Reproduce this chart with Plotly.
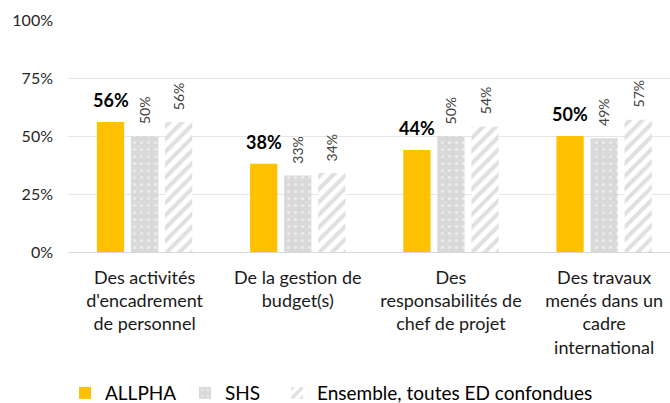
import plotly.graph_objects as go

categories = ["Des activités<br>d'encadrement<br>de personnel",
              "De la gestion de<br>budget(s)",
              "Des<br>responsabilités de<br>chef de projet",
              "Des travaux<br>menés dans un<br>cadre<br>international"]
allpha = [56, 38, 44, 50]
shs = [50, 33, 50, 49]
ensemble = [56, 34, 54, 57]
yticks = [0, 25, 50, 75, 100]
ytick_labels = ["0%", "25%", "50%", "75%", "100%"]

FONT = "Lato"
W, H = 670, 403
ML, MR, MT, MB = 68, 0, 20, 151
XRANGE = [-0.5, 3.43]
BARGAP, BARGROUPGAP = 0.333, 0.2

fig = go.Figure()
fig.add_trace(go.Bar(
    name="ALLPHA", x=categories, y=allpha, legend="legend",
    marker=dict(color="#FFC000", line=dict(width=0)),
))
fig.add_trace(go.Bar(
    name="SHS", x=categories, y=shs, legend="legend2",
    marker=dict(color="#D9D9D9", line=dict(width=0),
                pattern=dict(shape=".", bgcolor="#D9D9D9", fgcolor="#FFFFFF",
                             size=7, solidity=0.15, fillmode="overlay")),
))
fig.add_trace(go.Bar(
    name="Ensemble, toutes ED confondues", x=categories, y=ensemble, legend="legend3",
    marker=dict(color="#FFFFFF", line=dict(width=0),
                pattern=dict(shape="/", bgcolor="#FFFFFF", fgcolor="#C0C0C0",
                             size=9, solidity=0.45, fillmode="overlay")),
))

# value labels, placed above each bar (offset = bar slot within the group)
cat_px = (W - ML - MR) / (XRANGE[1] - XRANGE[0])
slot = cat_px * (1 - BARGAP) / 3
for i, cat in enumerate(categories):
    fig.add_annotation(x=cat, y=allpha[i], xref="x", yref="y", text=f"<b>{allpha[i]}%</b>",
                       showarrow=False, xshift=-slot, yshift=9, yanchor="bottom",
                       font=dict(size=18, color="#000000", family=FONT))
    fig.add_annotation(x=cat, y=shs[i], xref="x", yref="y", text=f"{shs[i]}%",
                       showarrow=False, xshift=0, yshift=10, yanchor="bottom",
                       textangle=-90, font=dict(size=14, color="#404040", family=FONT))
    fig.add_annotation(x=cat, y=ensemble[i], xref="x", yref="y", text=f"{ensemble[i]}%",
                       showarrow=False, xshift=slot, yshift=10, yanchor="bottom",
                       textangle=-90, font=dict(size=14, color="#404040", family=FONT))

pw = W - ML - MR
def lx(left_px):
    return (left_px - ML) / pw

leg_common = dict(orientation="h", xanchor="left", y=-0.608, yanchor="middle",
                  font=dict(size=19, color="#000000", family=FONT),
                  bgcolor="rgba(0,0,0,0)", borderwidth=0)
fig.update_layout(
    width=W, height=H,
    margin=dict(l=ML, r=MR, t=MT, b=MB, autoexpand=False),
    paper_bgcolor="white", plot_bgcolor="white",
    barmode="group", bargap=BARGAP, bargroupgap=BARGROUPGAP,
    font=dict(family=FONT, color="#262626"),
    showlegend=True,
    legend=dict(x=lx(65), **leg_common),
    legend2=dict(x=lx(185), **leg_common),
    legend3=dict(x=lx(277), **leg_common),
)
fig.update_xaxes(
    type="category", range=XRANGE, automargin=False,
    showline=True, linecolor="#D9D9D9", linewidth=1,
    ticks="", ticklabelstandoff=9,
    tickfont=dict(size=18, color="#1a1a1a", family=FONT),
)
fig.update_yaxes(
    range=[0, 100], tickvals=yticks, ticktext=ytick_labels, automargin=False,
    showgrid=True, gridcolor="#E6E6E6", gridwidth=1,
    zeroline=False, showline=False, ticks="", ticklabelstandoff=14,
    tickfont=dict(size=16, color="#262626", family=FONT),
)
fig.write_html("out.html", config={"displayModeBar": False},
               post_script="document.body.style.margin='0';")
